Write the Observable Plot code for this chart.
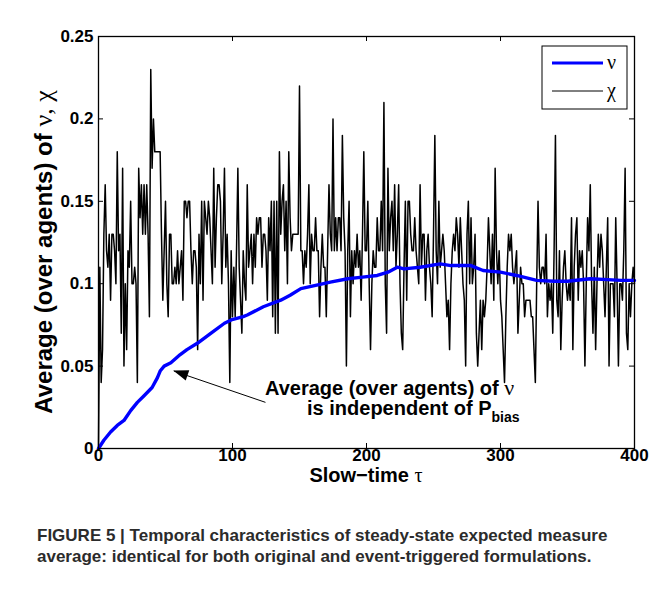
<!DOCTYPE html>
<html><head><meta charset="utf-8">
<script src="https://cdn.jsdelivr.net/npm/d3@7"></script>
<script src="https://cdn.jsdelivr.net/npm/@observablehq/plot@0.6"></script>
<style>
body{margin:0;background:#fff;font-family:"Liberation Sans",Arial,sans-serif;}
#chart svg{display:block;}
#caption{position:absolute;left:37px;top:525px;font-weight:bold;font-size:17px;color:#2b2b2b;line-height:21px;white-space:nowrap;}
</style></head><body>
<div id="chart"></div>
<div id="caption">FIGURE 5 | Temporal characteristics of steady-state expected measure<br>average: identical for both original and event-triggered formulations.</div>
<script>
// χ: one value per slow-time step τ = 0..400
const chi = [
0,0.11,0.04,0.06,0.13,0.16,0.12,0.11,0.13,0.09,
0.13,0.13,0.12,0.10,0.18,0.12,0.13,0.07,0.17,0.05,
0.10,0.06,0.12,0.11,0.15,0.10,0.10,0.11,0.10,0.04,
0.17,0.14,0.16,0.13,0.16,0.13,0.16,0.13,0.08,0.23,
0.17,0.20,0.18,0.18,0.18,0.18,0.18,0.13,0.09,0.12,
0.15,0.10,0.08,0.13,0.13,0.10,0.10,0.11,0.10,0.12,
0.10,0.11,0.12,0.09,0.15,0.15,0.14,0.15,0.15,0.12,
0.10,0.12,0.12,0.11,0.06,0.13,0.10,0.15,0.09,0.15,
0.14,0.13,0.15,0.14,0.12,0.10,0.17,0.11,0.14,0.16,
0.16,0.15,0.10,0.13,0.17,0.11,0.13,0.10,0.04,0.12,
0.08,0.11,0.08,0.12,0.17,0.11,0.09,0.07,0.12,0.10,
0.09,0.16,0.11,0.12,0.13,0.10,0.13,0.11,0.14,0.13,
0.14,0.14,0.11,0.13,0.13,0.12,0.09,0.14,0.12,0.15,
0.08,0.15,0.07,0.15,0.07,0.18,0.13,0.15,0.16,0.12,
0.15,0.10,0.18,0.14,0.12,0.13,0.13,0.13,0.13,0.13,
0.22,0.12,0.12,0.10,0.12,0.11,0.13,0.16,0.10,0.13,
0.12,0.12,0.14,0.12,0.12,0.08,0.11,0.13,0.11,0.11,
0.08,0.12,0.16,0.13,0.12,0.20,0.12,0.14,0.12,0.14,
0.14,0.12,0.19,0.14,0.12,0.05,0.12,0.15,0.08,0.12,
0.10,0.12,0.11,0.13,0.11,0.12,0.09,0.13,0.18,0.12,
0.12,0.15,0.10,0.06,0.10,0.12,0.11,0.11,0.14,0.12,
0.12,0.15,0.12,0.21,0.10,0.07,0.17,0.12,0.14,0.15,
0.12,0.16,0.11,0.13,0.16,0.10,0.07,0.06,0.11,0.15,
0.09,0.15,0.15,0.13,0.12,0.12,0.14,0.12,0.11,0.10,
0.16,0.11,0.13,0.13,0.09,0.12,0.13,0.11,0.10,0.08,
0.13,0.19,0.12,0.10,0.15,0.11,0.12,0.13,0.12,0.10,
0.08,0.09,0.06,0.10,0.12,0.13,0.12,0.14,0.13,0.11,
0.14,0.12,0.10,0.09,0.05,0.13,0.15,0.10,0.14,0.10,
0.11,0.13,0.07,0.05,0.07,0.09,0.06,0.09,0.08,0.09,
0.11,0.14,0.12,0.10,0.13,0.09,0.17,0.12,0.10,0.12,
0.09,0.08,0.06,0.04,0.08,0.11,0.13,0.12,0.13,0.11,
0.10,0.11,0.12,0.07,0.09,0.11,0.10,0.10,0.08,0.09,
0.09,0.09,0.09,0.08,0.08,0.06,0.04,0.10,0.15,0.11,
0.10,0.11,0.11,0.10,0.13,0.08,0.10,0.09,0.10,0.07,
0.12,0.19,0.09,0.08,0.12,0.06,0.09,0.11,0.12,0.10,
0.09,0.10,0.09,0.14,0.06,0.11,0.13,0.14,0.09,0.12,
0.11,0.12,0.10,0.05,0.10,0.14,0.12,0.16,0.10,0.07,
0.11,0.06,0.10,0.13,0.11,0.13,0.12,0.10,0.08,0.11,
0.14,0.05,0.10,0.10,0.10,0.08,0.14,0.10,0.05,0.10,
0.10,0.09,0.12,0.17,0.07,0.06,0.10,0.08,0.10,0.11,
0.10];
// ν: smooth average, read at these τ values
const nuTau = [0,4,9,14,19,24,29,34,40,44,46,49,54,61,66,74,84,94,99,108,111,123,136,143,151,162,173,186,197,208,216,223,228,240,255,263,278,287,300,312,327,340,350,367,380,390,400];
const nuVal = [0,0.005,0.010,0.014,0.017,0.023,0.028,0.032,0.037,0.043,0.047,0.050,0.052,0.057,0.060,0.064,0.070,0.076,0.078,0.080,0.081,0.086,0.090,0.093,0.097,0.099,0.101,0.103,0.104,0.105,0.107,0.110,0.109,0.110,0.112,0.111,0.111,0.108,0.107,0.105,0.102,0.1015,0.1015,0.103,0.1025,0.102,0.102];
const xTicks = [0,100,200,300,400];
const yTicks = [0,0.05,0.1,0.15,0.2,0.25];
const yTickLabels = ["0","0.05","0.1","0.15","0.2","0.25"];
// annotation arrow: tail (near text) -> head (on ν curve)
const arrowTail = {tau:124.6, v:0.028};
const arrowHead = {tau:56.2, v:0.047};
const annoLine1Pos = {tau:124.6, v:0.0322};
const annoLine2Pos = {tau:156, v:0.0198};

const chiData = chi.map((v,i)=>({tau:i, v}));
const nuData = nuTau.map((t,i)=>({tau:t, v:nuVal[i]}));
const yLabelMap = new Map(yTicks.map((d,i)=>[d,yTickLabels[i]]));

const W=659, H=490, mL=98, mR=25, mT=36, mB=42;
const plotW=W-mL-mR, plotH=H-mT-mB;
const FONT="'Liberation Sans', Arial, Helvetica, sans-serif";
const SERIF="'Liberation Serif', 'Times New Roman', serif";

const chart = Plot.plot({
  width:W, height:H, marginLeft:mL, marginRight:mR, marginTop:mT, marginBottom:mB,
  style:{fontFamily:FONT, fontSize:"17px", fontWeight:"bold", color:"black", background:"white", overflow:"visible"},
  x:{domain:[0,400]},
  y:{domain:[0,0.25]},
  marks:[
    Plot.line(chiData,{x:"tau",y:"v",stroke:"black",strokeWidth:1.5}),
    Plot.line(nuData,{x:"tau",y:"v",stroke:"#0000ff",strokeWidth:3.4}),
    Plot.link([{x1:arrowTail.tau,y1:arrowTail.v,x2:arrowHead.tau,y2:arrowHead.v}],{x1:"x1",y1:"y1",x2:"x2",y2:"y2",stroke:"black",strokeWidth:1}),
    Plot.tickX(xTicks,{x:d=>d,stroke:"black",insetTop:plotH-5}),
    Plot.tickX(xTicks,{x:d=>d,stroke:"black",insetBottom:plotH-5}),
    Plot.tickY(yTicks,{y:d=>d,stroke:"black",insetRight:plotW-5}),
    Plot.tickY(yTicks,{y:d=>d,stroke:"black",insetLeft:plotW-5}),
    Plot.axisX({ticks:xTicks,tickSize:0,tickPadding:0,label:null}),
    Plot.axisY({ticks:yTicks,tickSize:0,tickPadding:5,tickFormat:d=>yLabelMap.get(d),label:null}),
    Plot.frame({stroke:"black",strokeWidth:1.3})
  ]
});
document.getElementById("chart").appendChild(chart);

const svg = d3.select(chart);
const xs = chart.scale("x"), ys = chart.scale("y");

// arrowhead (filled)
{
  const hx=xs.apply(arrowHead.tau), hy=ys.apply(arrowHead.v);
  const tx=xs.apply(arrowTail.tau), ty=ys.apply(arrowTail.v);
  const ang=Math.atan2(hy-ty,hx-tx)*180/Math.PI;
  svg.append("path").attr("d","M0,0L-15,-5.5L-15,5.5Z").attr("fill","black")
    .attr("transform",`translate(${hx},${hy}) rotate(${ang})`);
}

// y label
{
  const t=svg.append("text").attr("transform",`translate(44,${mT+plotH/2+10}) rotate(-90)`)
    .attr("text-anchor","middle").attr("dy","0.35em").attr("font-size",24).attr("font-weight","bold").attr("font-family",FONT);
  t.append("tspan").text("Average (over agents) of ");
  t.append("tspan").attr("font-family",SERIF).attr("font-weight","normal").attr("font-size",26).text("ν, χ");
}
// x label
{
  const t=svg.append("text").attr("x",mL+plotW/2).attr("y",482)
    .attr("text-anchor","middle").attr("font-size",20).attr("font-weight","bold").attr("font-family",FONT);
  t.append("tspan").text("Slow−time ");
  t.append("tspan").attr("font-family",SERIF).attr("font-weight","normal").attr("font-size",20).text("τ");
}
// annotation
{
  const t1=svg.append("text").attr("x",xs.apply(annoLine1Pos.tau)).attr("y",ys.apply(annoLine1Pos.v))
    .attr("text-anchor","start").attr("font-size",20).attr("font-weight","bold").attr("font-family",FONT);
  t1.append("tspan").text("Average (over agents) of ");
  t1.append("tspan").attr("font-family",SERIF).attr("font-weight","normal").attr("font-size",22).text("ν");
  const t2=svg.append("text").attr("x",xs.apply(annoLine2Pos.tau)).attr("y",ys.apply(annoLine2Pos.v))
    .attr("text-anchor","start").attr("font-size",20).attr("font-weight","bold").attr("font-family",FONT);
  t2.append("tspan").text("is independent of P");
  t2.append("tspan").attr("font-size",14).attr("dy","7").text("bias");
}
// legend
{
  const lx=W-mR-92, ly=mT+10, lw=85, lh=63;
  const g=svg.append("g");
  g.append("rect").attr("x",lx).attr("y",ly).attr("width",lw).attr("height",lh).attr("fill","white").attr("stroke","black").attr("stroke-width",1);
  g.append("line").attr("x1",lx+10).attr("x2",lx+61).attr("y1",ly+17).attr("y2",ly+17).attr("stroke","#0000ff").attr("stroke-width",3);
  g.append("line").attr("x1",lx+10).attr("x2",lx+61).attr("y1",ly+45).attr("y2",ly+45).attr("stroke","black").attr("stroke-width",1);
  g.append("text").attr("x",lx+65).attr("y",ly+17).attr("dy","0.3em").attr("text-anchor","start").attr("font-family",SERIF).attr("font-weight","normal").attr("font-size",20).text("ν");
  g.append("text").attr("x",lx+65).attr("y",ly+45).attr("dy","0.3em").attr("text-anchor","start").attr("font-family",SERIF).attr("font-weight","normal").attr("font-size",20).text("χ");
}
</script>
</body></html>
